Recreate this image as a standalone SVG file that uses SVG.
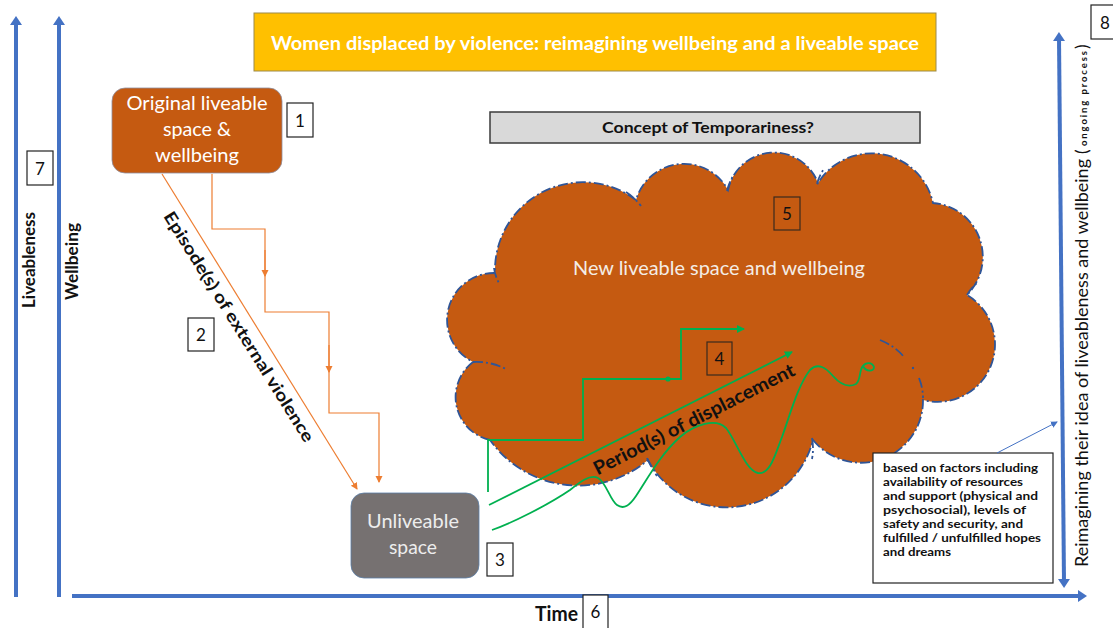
<svg xmlns="http://www.w3.org/2000/svg" width="1113" height="628" viewBox="0 0 1113 628">
  <style>
    .t{font-family:Lato,"Open Sans","Liberation Sans",sans-serif}
    .num{font-family:Lato,"Liberation Sans",sans-serif;font-size:17px;fill:#111}
    .nbox{fill:#fff;stroke:#222;stroke-width:1.2}
    .nbox2{fill:none;stroke:#3a2a1f;stroke-width:1.2}
    .axis{stroke:#4472C4;stroke-width:4;fill:none}
    .or{stroke:#ED7D31;stroke-width:1.2;fill:none}
    .gr{stroke:#00B050;stroke-width:1.8;fill:none}
    .cl{stroke:#2F5597;stroke-width:1.8;stroke-dasharray:10 3 2 3;fill:none}
  </style>
  <defs>
    <marker id="axHead" markerUnits="userSpaceOnUse" markerWidth="10" markerHeight="12" refX="3" refY="6" orient="auto-start-reverse">
      <path d="M0,0 L9,6 L0,12 Z" fill="#4472C4"/>
    </marker>
    <marker id="orHead" markerUnits="userSpaceOnUse" markerWidth="8" markerHeight="8" refX="6" refY="3.5" orient="auto">
      <path d="M0,0 L7,3.5 L0,7 Z" fill="#ED7D31"/>
    </marker>
    <marker id="grHead" markerUnits="userSpaceOnUse" markerWidth="9" markerHeight="9" refX="7" refY="4" orient="auto">
      <path d="M0,0 L8,4 L0,8 Z" fill="#00B050"/>
    </marker>
    <marker id="blHead" markerUnits="userSpaceOnUse" markerWidth="8" markerHeight="8" refX="6" refY="3.5" orient="auto">
      <path d="M0,0 L7,3.5 L0,7 Z" fill="#4472C4"/>
    </marker>
  </defs>

  <rect width="1113" height="628" fill="#fff"/>

  <!-- axes -->
  <g id="axes">
    <line class="axis" x1="16" y1="597" x2="16" y2="22" marker-end="url(#axHead)"/>
    <line class="axis" x1="59" y1="597" x2="59" y2="22" marker-end="url(#axHead)"/>
    <line class="axis" x1="72" y1="596" x2="1081" y2="596" marker-end="url(#axHead)"/>
    <line class="axis" stroke-width="3.5" x1="1059" y1="38" x2="1064" y2="582" marker-start="url(#axHead)" marker-end="url(#axHead)"/>
    <text class="t" font-weight="bold" font-size="16.5" fill="#111" transform="translate(35,308) rotate(-90)" textLength="96" lengthAdjust="spacingAndGlyphs">Liveableness</text>
    <text class="t" font-weight="bold" font-size="16.5" fill="#111" transform="translate(78,300) rotate(-90)" textLength="77" lengthAdjust="spacingAndGlyphs">Wellbeing</text>
    <text class="t" font-weight="bold" font-size="20" fill="#111" x="535" y="621" textLength="43" lengthAdjust="spacingAndGlyphs">Time</text>
    <text class="t" font-size="17" fill="#111" transform="translate(1088,567) rotate(-90)" textLength="408" lengthAdjust="spacingAndGlyphs">Reimagining their idea of liveableness and wellbeing</text>
    <text class="t" font-size="17" fill="#111" transform="translate(1088,154) rotate(-90)">(</text>
    <text class="t" font-weight="bold" font-size="9.5" fill="#111" transform="translate(1087,146) rotate(-90)" textLength="95" lengthAdjust="spacing">ongoing process</text>
    <text class="t" font-size="17" fill="#111" transform="translate(1088,49) rotate(-90)">)</text>
  </g>

  <!-- title -->
  <g id="title">
    <rect x="254" y="13" width="682" height="58" fill="#FFC000" stroke="#9C8A4A" stroke-width="1"/>
    <text class="t" x="595" y="50" text-anchor="middle" font-weight="bold" font-size="18" fill="#fff" textLength="648" lengthAdjust="spacingAndGlyphs">Women displaced by violence: reimagining wellbeing and a liveable space</text>
  </g>

  <!-- concept label -->
  <g id="concept">
    <rect x="490" y="112" width="430" height="31" fill="#D9D9D9" stroke="#3B3B3B" stroke-width="1.5"/>
    <text class="t" x="708" y="133" text-anchor="middle" font-weight="bold" font-size="14.5" fill="#111" textLength="212" lengthAdjust="spacingAndGlyphs">Concept of Temporariness?</text>
  </g>

  <!-- new liveable space cloud -->
  <g id="cloud">
    <path d="M490,440 A44,44 0 0 1 473,362 A47,47 0 0 1 495,273 A88,88 0 0 1 636,200 A50,50 0 0 1 728,190 A47,47 0 0 1 818,183 A63,63 0 0 1 933,203 A54,54 0 0 1 967,295 A57.5,57.5 0 0 1 923,400 A62,62 0 0 1 813,440 A89,89 0 0 1 648,460 A108,108 0 0 1 490,440 Z" fill="#C55A11"/>
    <path class="cl" d="M490,440 A44,44 0 0 1 473,362 A47,47 0 0 1 495,273 A88,88 0 0 1 636,200 A50,50 0 0 1 728,190 A47,47 0 0 1 818,183 A63,63 0 0 1 933,203 A54,54 0 0 1 967,295 A57.5,57.5 0 0 1 923,400 A62,62 0 0 1 813,440 A89,89 0 0 1 648,460 A108,108 0 0 1 490,440 Z"/>
    <!-- inner arcs -->
    <path class="cl" d="M473,362 Q490,361 506,369"/>
    <path class="cl" d="M626,192 Q634,197 641,206"/>
    <path class="cl" d="M494,268 Q495,276 499,283"/>
    <path class="cl" d="M727,191 Q729,183 733,176"/>
    <path class="cl" d="M817,184 Q819,176 824,169"/>
    <path class="cl" d="M967,295 Q971,288 977,283"/>
    <path class="cl" d="M880,340 Q895,346 904,357"/>
    <circle cx="913" cy="368" r="1.2" fill="#2F5597"/>
    <path class="cl" d="M919,378 Q923,388 923,398"/>
    <path class="cl" d="M647,458 Q651,467 657,476"/>
    <path class="cl" d="M812,438 Q814,449 812,459"/>
    <text class="t" x="573" y="275" font-size="19" fill="#F4EDE6" textLength="292" lengthAdjust="spacingAndGlyphs">New liveable space and wellbeing</text>
  </g>

  <!-- original liveable space -->
  <g id="original">
    <rect x="112" y="88" width="170" height="85" rx="13" fill="#C55A11" stroke="#8E8E9E" stroke-width="0.8"/>
    <g class="t" font-size="19" fill="#fff" text-anchor="middle">
      <text x="197" y="110" textLength="141" lengthAdjust="spacingAndGlyphs">Original liveable</text>
      <text x="197" y="136" textLength="68" lengthAdjust="spacingAndGlyphs">space &amp;</text>
      <text x="197" y="162" textLength="84" lengthAdjust="spacingAndGlyphs">wellbeing</text>
    </g>
  </g>

  <!-- unliveable space -->
  <g id="unliveable">
    <rect x="351" y="493" width="128" height="85" rx="13" fill="#767171" stroke="#5B7FA8" stroke-width="0.8"/>
    <g class="t" font-size="19" fill="#EDEDED" text-anchor="middle">
      <text x="413" y="528" textLength="92" lengthAdjust="spacingAndGlyphs">Unliveable</text>
      <text x="413" y="554" textLength="48" lengthAdjust="spacingAndGlyphs">space</text>
    </g>
  </g>

  <!-- factors note -->
  <g id="factors">
    <rect x="873" y="453" width="180" height="130" fill="#fff" stroke="#222" stroke-width="1.2"/>
    <g class="t" font-weight="bold" font-size="12" fill="#111">
      <text x="883" y="472" textLength="155" lengthAdjust="spacingAndGlyphs">based on factors including</text>
      <text x="883" y="486" textLength="140" lengthAdjust="spacingAndGlyphs">availability of resources</text>
      <text x="883" y="500" textLength="155" lengthAdjust="spacingAndGlyphs">and support (physical and</text>
      <text x="883" y="514" textLength="143" lengthAdjust="spacingAndGlyphs">psychosocial), levels of</text>
      <text x="883" y="528" textLength="140" lengthAdjust="spacingAndGlyphs">safety and security, and</text>
      <text x="883" y="542" textLength="158" lengthAdjust="spacingAndGlyphs">fulfilled / unfulfilled hopes</text>
      <text x="883" y="556" textLength="68" lengthAdjust="spacingAndGlyphs">and dreams</text>
    </g>
  </g>

  <!-- connectors -->
  <g id="connectors">
    <!-- violence: direct and stepwise descent -->
    <line class="or" x1="162" y1="174" x2="357" y2="489" marker-end="url(#orHead)"/>
    <path class="or" d="M212,174 V229 H265 V312 H329 V413 H379 V482" marker-end="url(#orHead)"/>
    <path class="or" d="M265,250 V276" marker-end="url(#orHead)"/>
    <path class="or" d="M329,345 V372" marker-end="url(#orHead)"/>
    <!-- displacement paths -->
    <path class="gr" d="M488,492 V440 H583 V379 H681 V329 H744" marker-end="url(#grHead)"/>
    <circle cx="668" cy="379" r="2.6" fill="#00B050"/>
    <line class="gr" x1="489" y1="505" x2="792" y2="352" marker-end="url(#grHead)"/>
    <path class="gr" d="M492,530 C512,523 548,505 570,490 C580,482 590,474 598,478 C606,482 610,500 617,505 C624,510 630,505 636,496 C648,478 660,455 680,437 C695,424 716,418 726,428 C736,440 745,470 758,473 C770,475 775,455 782,437 C790,415 798,385 810,370 C818,362 826,368 833,376 C840,384 848,388 856,384 C861,380 859,370 863,366 C866,362 872,362 874,367 C874,372 866,372 863,366"/>
    <!-- note pointer -->
    <line x1="997" y1="453" x2="1057" y2="422" stroke="#4472C4" stroke-width="1" marker-end="url(#blHead)"/>
  </g>

  <!-- rotated labels along connectors -->
  <g id="labels">
    <text class="t" font-weight="bold" font-size="17" fill="#111" text-anchor="middle" transform="translate(234,330) rotate(58)" textLength="268" lengthAdjust="spacingAndGlyphs">Episode(s) of external violence</text>
    <text class="t" font-weight="bold" font-size="19" fill="#111" text-anchor="middle" transform="translate(697,425) rotate(-26.9)" textLength="223" lengthAdjust="spacingAndGlyphs">Period(s) of displacement</text>
  </g>

  <!-- numbered markers -->
  <g id="n1"><rect class="nbox" x="287" y="103" width="26" height="34"/><text class="num" x="300" y="127" text-anchor="middle">1</text></g>
  <g id="n2"><rect class="nbox" x="188" y="318" width="26" height="33"/><text class="num" x="201" y="341" text-anchor="middle">2</text></g>
  <g id="n3"><rect class="nbox" x="487" y="543" width="26" height="33"/><text class="num" x="500" y="566" text-anchor="middle">3</text></g>
  <g id="n4"><rect class="nbox2" x="707" y="342" width="25" height="33"/><text class="num" x="719.5" y="365" text-anchor="middle">4</text></g>
  <g id="n5"><rect class="nbox2" x="774" y="197" width="26" height="33"/><text class="num" x="787" y="220" text-anchor="middle">5</text></g>
  <g id="n6"><rect class="nbox" x="583" y="595" width="25" height="40"/><text class="num" x="595.5" y="618" text-anchor="middle">6</text></g>
  <g id="n7"><rect class="nbox" x="27" y="151" width="26" height="34"/><text class="num" x="40" y="175" text-anchor="middle">7</text></g>
  <g id="n8"><rect class="nbox" x="1091" y="5" width="30" height="34"/><text class="num" x="1105" y="29" text-anchor="middle">8</text></g>
</svg>
